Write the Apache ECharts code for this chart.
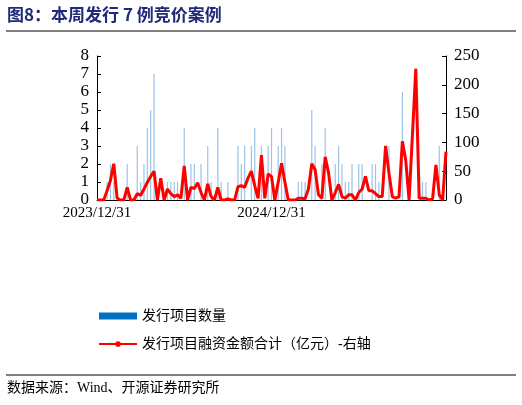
<!DOCTYPE html>
<html><head><meta charset="utf-8">
<script src="https://cdn.jsdelivr.net/npm/echarts@6/dist/echarts.min.js"></script>
<style>html,body{margin:0;padding:0;background:#fff}#c{width:522px;height:405px}</style>
</head><body><div id="c"></div>
<script>
const amounts = [0,0,0,16,34,63,3,0,0,22,0,0,11,8,19,31,41,50,0,38,0,19,11,6,9,3,59,0,22,20,30,13,0,28,6,0,22,0,0,2,0,0,23,25,22,38,50,25,3,78,3,45,41,0,31,64,31,0,0,0,3,3,2,19,63,53,9,3,75,47,0,13,27,6,3,9,9,0,13,19,41,16,16,11,6,6,94,47,6,3,6,102,69,0,113,228,3,3,3,0,2,61,9,0,84];
const countPairs = [[3,1],[4,2],[5,1],[9,2],[12,3],[13,1],[14,2],[15,4],[16,5],[17,7],[21,1],[22,1],[23,1],[24,1],[26,4],[28,2],[29,2],[31,2],[33,3],[34,1],[36,4],[37,1],[39,1],[42,3],[43,2],[44,3],[46,3],[47,4],[49,3],[51,3],[52,4],[54,3],[55,4],[56,3],[60,1],[61,1],[62,1],[64,5],[65,3],[67,2],[68,4],[71,2],[72,3],[73,2],[74,1],[75,1],[76,2],[78,2],[79,2],[82,2],[83,2],[84,1],[87,3],[91,6],[97,1],[98,1],[102,3]];
const tickLabels = {0:'2023/12/31', 52:'2024/12/31'};
const counts = amounts.map(()=>0);
countPairs.forEach(([i,v])=>counts[i]=v);
const categories = amounts.map((_, i) => {
  const d = new Date(Date.UTC(2023,11,31) + i*7*86400000);
  return d.getUTCFullYear()+'/'+(d.getUTCMonth()+1)+'/'+d.getUTCDate();
});
const serif = '"Liberation Serif","Noto Sans CJK SC",serif';
const cjk = '"Liberation Serif","Noto Sans CJK SC",serif';
const chart = echarts.init(document.getElementById('c'));
chart.setOption({
  animation:false,
  graphic:[
    {type:'text',left:7,top:6,style:{text:'图8：本周发行 7 例竞价案例',font:'bold 17px "Noto Sans CJK SC"',fill:'#1f2a78'}},
    {type:'line',shape:{x1:6,y1:31,x2:516,y2:31},style:{stroke:'#000',lineWidth:1}},
    {type:'line',shape:{x1:6,y1:375,x2:516,y2:375},style:{stroke:'#000',lineWidth:1}},
    {type:'text',left:7,top:381,style:{text:'数据来源：Wind、开源证券研究所',font:'14px '+cjk,fill:'#000'}}
  ],
  grid:{left:97,right:76,top:56,bottom:205},
  legend:{orient:'vertical',left:93,top:304,itemGap:14,itemWidth:38,itemHeight:7,
    textStyle:{fontFamily:cjk,fontSize:14,color:'#000'},
    data:[{name:'发行项目数量',icon:'rect',itemStyle:{color:'#0070c0'}},{name:'发行项目融资金额合计（亿元）-右轴'}]},
  xAxis:{type:'category',data:categories,boundaryGap:false,
    axisLine:{lineStyle:{color:'#000'}},axisTick:{show:false},
    axisLabel:{interval:(i)=>tickLabels[i]!==undefined,formatter:(v,i)=>tickLabels[i]||'',fontFamily:serif,fontSize:15,color:'#000',margin:6}},
  yAxis:[
    {type:'value',min:0,max:8,interval:1,splitLine:{show:false},axisLine:{show:true,lineStyle:{color:'#000'}},axisTick:{show:true,inside:true,length:4},
     axisLabel:{fontFamily:serif,fontSize:17,color:'#000',margin:8}},
    {type:'value',min:0,max:250,interval:50,splitLine:{show:false},axisLine:{show:true,lineStyle:{color:'#000'}},axisTick:{show:true,inside:true,length:4},
     axisLabel:{fontFamily:serif,fontSize:17,color:'#000',margin:8}}
  ],
  series:[
    {name:'发行项目数量',type:'bar',data:counts,barWidth:1.2,itemStyle:{color:'#9dc3e6'}},
    {name:'发行项目融资金额合计（亿元）-右轴',type:'line',yAxisIndex:1,data:amounts,symbol:'none',lineStyle:{color:'#ff0000',width:3},itemStyle:{color:'#ff0000'}}
  ]
});
</script></body></html>
